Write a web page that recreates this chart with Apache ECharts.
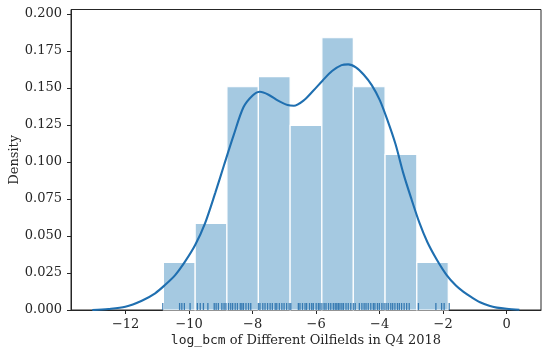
<!DOCTYPE html>
<html>
<head>
<meta charset="utf-8">
<script src="https://cdn.jsdelivr.net/npm/echarts@6/dist/echarts.min.js"></script>
<style>html,body{margin:0;padding:0;background:#fff}#c{width:550px;height:355px}</style>
</head>
<body>
<div id="c"></div>
<script>
// Histogram bin edges and densities
const binEdges = [-10.81, -9.81, -8.81, -7.82, -6.82, -5.82, -4.83, -3.83, -2.83, -1.84];
const binDensity = [0.0322, 0.0586, 0.1509, 0.1577, 0.1248, 0.1840, 0.1509, 0.1052, 0.0322];

// KDE curve (x, density)
const kdeX = [-13.05, -12.54, -12.01, -11.49, -11.07, -10.76, -10.44, -10.13, -9.81, -9.50, -9.18, -8.9, -8.6, -8.29, -8.0, -7.77, -7.5, -7.2, -6.9, -6.7, -6.4, -6.1, -5.8, -5.5, -5.2, -4.99, -4.75, -4.5, -4.25, -4.0, -3.75, -3.5, -3.25, -3.0, -2.75, -2.5, -2.2, -1.89, -1.6, -1.37, -1.1, -0.84, -0.55, -0.31, 0.0, 0.4];
const kdeY = [0.0000, 0.0007, 0.0022, 0.0063, 0.0113, 0.0169, 0.0236, 0.0327, 0.0439, 0.0586, 0.079, 0.098, 0.118, 0.137, 0.145, 0.1475, 0.1455, 0.1415, 0.1385, 0.138, 0.1415, 0.148, 0.155, 0.1615, 0.1655, 0.166, 0.164, 0.159, 0.152, 0.142, 0.128, 0.112, 0.092, 0.075, 0.059, 0.046, 0.034, 0.0236, 0.0165, 0.0124, 0.0085, 0.0052, 0.0028, 0.0016, 0.0008, 0.0002];

// Rug observations
const rugX = [-10.83, -10.30, -10.23, -10.15, -9.97, -9.74, -9.65, -9.55, -9.41, -9.21, -9.15, -9.08, -8.97, -8.90, -8.84, -8.76, -8.69, -8.63, -8.55, -8.48, -8.39, -8.34, -8.29, -8.21, -8.13, -8.06, -7.82, -7.77, -7.68, -7.61, -7.53, -7.45, -7.38, -7.29, -7.24, -7.16, -7.08, -7.01, -6.93, -6.85, -6.80, -6.56, -6.51, -6.43, -6.35, -6.30, -6.21, -6.14, -6.09, -6.00, -5.93, -5.88, -5.82, -5.75, -5.69, -5.61, -5.54, -5.46, -5.40, -5.35, -5.30, -5.25, -5.19, -5.14, -5.06, -4.99, -4.91, -4.83, -4.77, -4.64, -4.56, -4.49, -4.43, -4.36, -4.28, -4.20, -4.15, -4.07, -4.01, -3.93, -3.86, -3.80, -3.73, -3.65, -3.59, -3.52, -3.44, -3.38, -3.31, -3.23, -3.15, -3.07, -2.78, -2.23, -2.05, -1.97, -1.81];

// Tick labels
const xTicks = [-12, -10, -8, -6, -4, -2, 0];
const yTicks = [0, 0.025, 0.05, 0.075, 0.1, 0.125, 0.15, 0.175, 0.2];

const histData = binDensity.map((h, i) => [binEdges[i], binEdges[i + 1], h]);
const kdeData = kdeX.map((x, i) => [x, kdeY[i]]);
const rugData = rugX.map(x => [x, 0]);

const ink = '#262626';
const serif = 'DejaVu Serif';

const chart = echarts.init(document.getElementById('c'), null, {renderer: 'canvas'});
chart.setOption({
  animation: false,
  backgroundColor: '#fff',
  grid: {left: 71, right: 9, top: 9.5, bottom: 45, outerBoundsMode: 'none', containLabel: false,
    show: true, borderColor: ink, borderWidth: 1, backgroundColor: 'transparent'},
  xAxis: {
    type: 'value', min: -13.72, max: 1.08,
    splitLine: {show: false},
    axisLine: {show: true, onZero: false, lineStyle: {color: ink, width: 1}},
    axisTick: {show: true, length: 4, lineStyle: {color: ink}, customValues: xTicks},
    axisLabel: {color: ink, fontFamily: serif, fontSize: 13, margin: 8, customValues: xTicks,
      formatter: v => String(v).replace('-', '\u2212')},
    name: '{m|log_bcm} of Different Oilfields in Q4 2018',
    nameLocation: 'middle', nameGap: 24, nameMoveOverlap: false,
    nameTextStyle: {color: ink, fontFamily: serif, fontSize: 13,
      rich: {m: {fontFamily: 'DejaVu Sans Mono', fontSize: 13, color: ink}}}
  },
  yAxis: {
    type: 'value', min: 0, max: 0.2031,
    splitLine: {show: false},
    axisLine: {show: true, onZero: false, lineStyle: {color: ink, width: 1}},
    axisTick: {show: true, length: 4, lineStyle: {color: ink}, customValues: yTicks},
    axisLabel: {color: ink, fontFamily: serif, fontSize: 13, margin: 9, customValues: yTicks,
      formatter: v => v.toFixed(3)},
    name: 'Density', nameLocation: 'middle', nameGap: 50, nameMoveOverlap: false,
    nameTextStyle: {color: ink, fontFamily: serif, fontSize: 13}
  },
  series: [
    {
      type: 'custom', data: histData, z: 1,
      renderItem: (params, api) => {
        const p0 = api.coord([api.value(0), api.value(2)]);
        const p1 = api.coord([api.value(1), 0]);
        return {type: 'rect', shape: {x: p0[0], y: p0[1], width: p1[0] - p0[0], height: p1[1] - p0[1]},
          style: {fill: '#a5c9e1', stroke: '#ffffff', lineWidth: 1.2}};
      }
    },
    {
      type: 'scatter', data: rugData, z: 2, symbol: 'rect', symbolSize: [1.3, 7], symbolOffset: [0, -3.5],
      itemStyle: {color: '#1a66a6'}, silent: true
    },
    {
      type: 'line', data: kdeData, z: 3, smooth: 0.3, showSymbol: false, symbol: 'none',
      lineStyle: {color: '#1f6fb0', width: 2.1}
    }
  ]
});
</script>
</body>
</html>
